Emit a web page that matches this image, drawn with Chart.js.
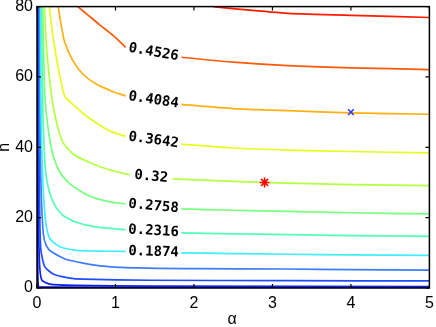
<!DOCTYPE html>
<html>
<head>
<meta charset="utf-8">
<script src="https://cdn.jsdelivr.net/npm/chart.js@4.4.0/dist/chart.umd.min.js"></script>
<style>
  html, body { margin: 0; padding: 0; background: #fff; }
</style>
</head>
<body>
<canvas id="contourChart" width="436" height="327"></canvas>
<script>
(function () {
  // Contour levels (top to bottom) and their jet-like colours
  const levels = [0.4968, 0.4526, 0.4084, 0.3642, 0.32, 0.2758, 0.2316, 0.1874, 0.1432, 0.099, 0.0548, 0.0106];
  const lineColors = ["#ff1a00", "#ff5a08", "#ffb010", "#e4ff18", "#b4ff40", "#78ff80", "#50ffb4", "#40eeff", "#3c7cff", "#1e4cff", "#0a22f0", "#0000c8"];

  // Contour paths as [alpha, n]; null = gap for the inline label
  const contour4968 = [[2.25, 80], [2.6, 79.2], [3.2, 78.1], [4, 77.5], [5, 76.9]];
  const contour4526 = [[0.52, 80], [0.58, 78.9], [0.65, 77.6], [0.8, 74.8], [0.97, 71.8], [1.13, 68.4], null, [1.84, 65.6], [2.5, 64.2], [3.2, 63.2], [4, 62.6], [5, 62.1]];
  const contour4084 = [[0.27, 80], [0.3, 75.8], [0.35, 70.1], [0.46, 64.5], [0.59, 60.7], [0.76, 57.9], [0.97, 55.8], [1.13, 54.6], null, [1.84, 52.2], [2.5, 51], [3.2, 50.4], [4, 49.8], [5, 49.4]];
  const contour3642 = [[0.156, 80], [0.2, 72], [0.27, 62.6], [0.31, 58.3], [0.354, 54.5], [0.506, 51.2], [0.645, 48.6], [0.92, 44.7], [1.13, 43.1], null, [1.84, 40.9], [2.5, 39.8], [3.2, 39.2], [4, 38.8], [5, 38.4]];
  const contour3200 = [[0.095, 80], [0.125, 67.3], [0.186, 54.6], [0.25, 47], [0.33, 41.4], [0.46, 38.1], [0.67, 35.7], [0.92, 33.6], [1.18, 32.2], null, [1.73, 31], [2.5, 30.3], [3.2, 29.8], [4, 29.4], [5, 29.1]];
  const contour2758 = [[0.072, 80], [0.085, 67], [0.1, 54.6], [0.143, 45.1], [0.206, 37.6], [0.29, 32.9], [0.42, 29.6], [0.61, 26.8], [0.76, 25.4], [0.95, 24.4], [1.13, 23.9], null, [1.84, 22.5], [2.5, 22.1], [3.2, 21.8], [4, 21.4], [5, 21.1]];
  const contour2316 = [[0.058, 80], [0.065, 65], [0.075, 50], [0.1, 35.7], [0.13, 30], [0.17, 26.5], [0.228, 23.5], [0.333, 20.6], [0.5, 18.7], [0.76, 17.3], [1.13, 16.6], null, [1.84, 15.7], [2.5, 15.4], [3.2, 15.2], [4, 14.9], [5, 14.7]];
  const contour1874 = [[0.046, 80], [0.05, 55], [0.06, 40], [0.08, 27.7], [0.114, 18.3], [0.165, 14], [0.29, 11.7], [0.5, 10.7], [0.76, 10.5], [1.13, 10.4], null, [1.84, 10], [2.5, 9.8], [3.2, 9.6], [4, 9.4], [5, 9.3]];
  const contour1432 = [[0.034, 80], [0.038, 50], [0.05, 30], [0.08, 15.5], [0.12, 12], [0.186, 10.3], [0.376, 8.1], [0.8, 6.3], [1.3, 5.7], [2, 5.5], [3.2, 5.4], [4, 5.2], [5, 5.1]];
  const contour0990 = [[0.022, 80], [0.026, 40], [0.035, 20], [0.05, 10.7], [0.1, 6], [0.206, 4], [0.4, 2.9], [0.59, 2.5], [1.43, 2.2], [3.2, 2.1], [5, 2]];
  const contour0548 = [[0.012, 80], [0.016, 30], [0.03, 7.9], [0.06, 2.3], [0.165, 1.1], [0.5, 0.75], [1.43, 0.56], [5, 0.4]];
  const contour0106 = [[0.004, 80], [0.006, 20], [0.012, 2], [0.03, 0.25], [5, 0.1]];

  const contourPaths = [contour4968, contour4526, contour4084, contour3642, contour3200, contour2758,
    contour2316, contour1874, contour1432, contour0990, contour0548, contour0106];

  // Marked points
  const starPoint = [2.9, 30];
  const crossPoint = [4, 50];

  // Axis ticks
  const xTicks = [0, 1, 2, 3, 4, 5];
  const yTicks = [0, 20, 40, 60, 80];

  function toXY(path) {
    let lastX = 0;
    return path.map((p) => {
      if (p === null) return { x: lastX, y: null };
      lastX = p[0];
      return { x: p[0], y: p[1] };
    });
  }

  // Frame, inward ticks, inline contour labels and axis titles
  const contourExtras = {
    id: "contourExtras",
    afterDatasetsDraw(chart) {
      const { ctx, chartArea: a } = chart;
      const xs = chart.scales.x;
      const ys = chart.scales.y;

      ctx.save();
      ctx.font = "bold 14px 'DejaVu Sans Mono'";
      ctx.fillStyle = "#000";
      ctx.textAlign = "center";
      ctx.textBaseline = "middle";
      contourPaths.forEach((path, i) => {
        const gap = path.indexOf(null);
        if (gap < 0) return;
        const p0 = path[gap - 1];
        const p1 = path[gap + 1];
        const x0 = xs.getPixelForValue(p0[0]);
        const y0 = ys.getPixelForValue(p0[1]);
        const x1 = xs.getPixelForValue(p1[0]);
        const y1 = ys.getPixelForValue(p1[1]);
        ctx.save();
        ctx.translate((x0 + x1) / 2, (y0 + y1) / 2);
        ctx.rotate(Math.atan2(y1 - y0, x1 - x0));
        ctx.fillText(String(levels[i]), 0, 0);
        ctx.restore();
      });

      // box
      ctx.strokeStyle = "#000";
      ctx.lineWidth = 1.5;
      ctx.strokeRect(a.left, a.top, a.right - a.left, a.bottom - a.top);

      // ticks pointing inward
      ctx.lineWidth = 1.2;
      ctx.beginPath();
      xTicks.forEach((v) => {
        const px = xs.getPixelForValue(v);
        ctx.moveTo(px, a.bottom); ctx.lineTo(px, a.bottom - 4);
        ctx.moveTo(px, a.top); ctx.lineTo(px, a.top + 4);
      });
      yTicks.forEach((v) => {
        const py = ys.getPixelForValue(v);
        ctx.moveTo(a.left, py); ctx.lineTo(a.left + 4, py);
        ctx.moveTo(a.right, py); ctx.lineTo(a.right - 4, py);
      });
      ctx.stroke();

      // axis titles
      ctx.font = "16px 'Liberation Sans'";
      ctx.textAlign = "center";
      ctx.textBaseline = "middle";
      ctx.fillText("\u03b1", (a.left + a.right) / 2 - 1, 320);
      ctx.save();
      ctx.translate(5, (a.top + a.bottom) / 2);
      ctx.rotate(-Math.PI / 2);
      ctx.fillText("n", 0, 0);
      ctx.restore();
      ctx.restore();
    },
  };

  const datasets = [
    {
      data: [{ x: starPoint[0], y: starPoint[1] }],
      pointStyle: "star",
      pointRadius: 5,
      borderColor: "#ff0000",
      backgroundColor: "#ff0000",
      pointBorderWidth: 1.6,
      showLine: false,
    },
    {
      data: [{ x: crossPoint[0], y: crossPoint[1] }],
      pointStyle: "crossRot",
      pointRadius: 4,
      borderColor: "#2a3cff",
      backgroundColor: "#2a3cff",
      pointBorderWidth: 1.6,
      showLine: false,
    },
  ].concat(
    contourPaths.map((path, i) => ({
      data: toXY(path),
      showLine: true,
      spanGaps: false,
      borderColor: lineColors[i],
      borderWidth: 1.7,
      pointRadius: 0,
      tension: 0.2,
      fill: false,
    }))
  );

  const tickFont = { family: "'Liberation Sans', Arial, sans-serif", size: 16 };

  new Chart(document.getElementById("contourChart").getContext("2d"), {
    type: "scatter",
    data: { datasets: datasets },
    options: {
      responsive: false,
      animation: false,
      events: [],
      layout: { padding: { top: 5, right: 4, left: 0, bottom: 0 } },
      plugins: { legend: { display: false }, tooltip: { enabled: false } },
      scales: {
        x: {
          type: "linear",
          min: 0,
          max: 5,
          afterBuildTicks: (scale) => { scale.ticks = xTicks.map((v) => ({ value: v })); },
          afterFit: (scale) => {
            scale.height = 39;
            scale.paddingLeft = 0;
            scale.paddingRight = 0;
          },
          grid: { display: false, drawTicks: false },
          border: { display: false },
          ticks: { color: "#000", font: tickFont, padding: 6, maxRotation: 0 },
        },
        y: {
          type: "linear",
          min: 0,
          max: 80,
          afterBuildTicks: (scale) => { scale.ticks = yTicks.map((v) => ({ value: v })); },
          afterFit: (scale) => {
            scale.width = 37;
            scale.paddingTop = 0;
            scale.paddingBottom = 0;
          },
          grid: { display: false, drawTicks: false },
          border: { display: false },
          ticks: { color: "#000", font: tickFont, padding: 4 },
        },
      },
    },
    plugins: [contourExtras],
  });
})();
</script>
</body>
</html>
